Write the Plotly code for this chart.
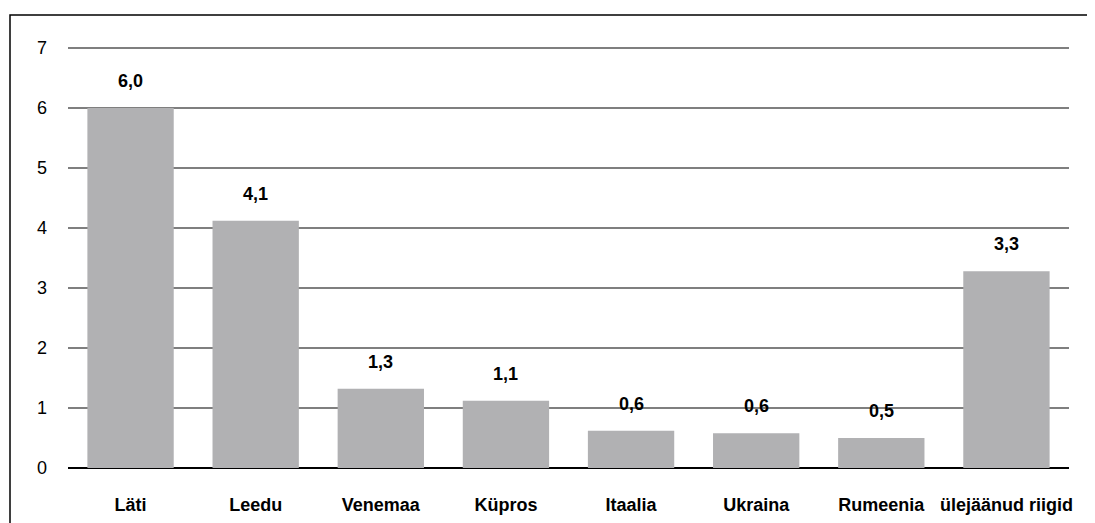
import plotly.graph_objects as go

categories = ["Läti", "Leedu", "Venemaa", "Küpros", "Itaalia", "Ukraina", "Rumeenia", "ülejäänud riigid"]
values = [6.0, 4.12, 1.32, 1.12, 0.62, 0.58, 0.5, 3.28]
labels = ["6,0", "4,1", "1,3", "1,1", "0,6", "0,6", "0,5", "3,3"]
y_ticks = [0, 1, 2, 3, 4, 5, 6, 7]

font = "Liberation Sans, Arial, sans-serif"

fig = go.Figure()
fig.add_trace(go.Bar(
    x=categories, y=values,
    marker=dict(color="#b1b1b3", line=dict(width=0)),
    width=0.69,
))

for c, v, t in zip(categories, values, labels):
    fig.add_annotation(x=c, y=v, text=f"<b>{t}</b>", showarrow=False,
                       yanchor="bottom", yshift=15,
                       font=dict(family=font, size=18, color="#000"))

# page body has an 8px margin; the figure is sized/positioned to compensate
fig.update_layout(
    width=1087, height=515,
    margin=dict(l=60, r=26, t=37, b=55),
    paper_bgcolor="white", plot_bgcolor="white",
    showlegend=False,
    font=dict(family=font, size=18, color="#000"),
    xaxis=dict(
        tickmode="array", tickvals=categories,
        ticktext=[f"<b>{c}</b>" for c in categories],
        tickfont=dict(family=font, size=18, color="#000"),
        showgrid=False, showline=False, ticks="", ticklabelstandoff=24,
        automargin=False,
    ),
    yaxis=dict(
        range=[0, 7.05], tickvals=y_ticks, ticktext=[str(t) for t in y_ticks],
        showgrid=True, gridcolor="#7f7f7f", gridwidth=2,
        zeroline=True, zerolinecolor="#000", zerolinewidth=2,
        showline=False, ticks="", ticklabelstandoff=20,
        tickfont=dict(family=font, size=18, color="#000"),
        automargin=False,
    ),
    shapes=[dict(type="rect", xref="paper", yref="paper",
                 x0=(10 - 68) / 1001, x1=1.2, y0=-0.3, y1=(468 - 15) / 423,
                 line=dict(color="#000", width=1.5), fillcolor="rgba(0,0,0,0)")],
)

fig.write_html("out.html")
